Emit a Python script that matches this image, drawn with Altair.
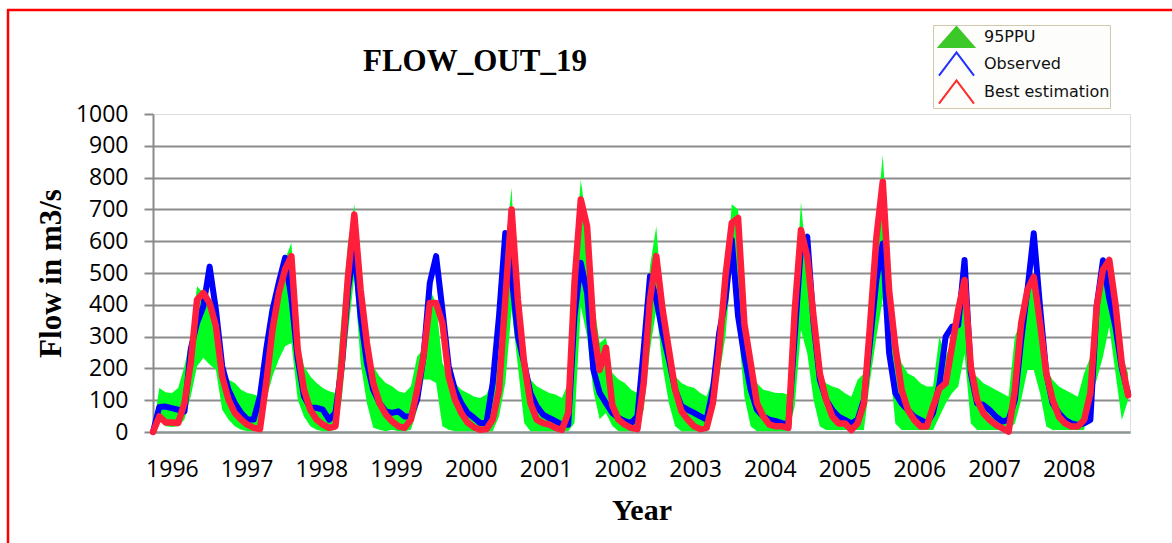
import altair as alt
import pandas as pd

months = list(range(156))

obs = [0, 79, 80, 75, 70, 65, 260, 343, 395, 520, 385, 207,
       133, 91, 60, 39, 39, 112, 260, 385, 470, 548, 420, 230,
       112, 76, 76, 70, 39, 60, 207, 448, 580, 364, 217, 133,
       91, 65, 60, 65, 49, 49, 102, 238, 469, 553, 385, 207,
       133, 91, 60, 45, 28, 28, 154, 364, 626, 490, 301, 217,
       122, 81, 55, 44, 34, 23, 23, 364, 532, 437, 196, 123,
       91, 60, 44, 34, 28, 49, 260, 490, 417, 312, 228, 133,
       81, 70, 60, 49, 39, 133, 312, 417, 605, 364, 238, 133,
       70, 49, 39, 34, 28, 23, 300, 583, 614, 342, 164, 101,
       69, 48, 38, 27, 38, 101, 289, 480, 593, 250, 122, 90,
       69, 48, 38, 27, 60, 150, 300, 331, 336, 541, 184, 90,
       85, 69, 48, 33, 38, 101, 289, 447, 625, 394, 184, 90,
       59, 38, 27, 22, 27, 38, 394, 540, 420, 330, 200, 120]

best = [0, 49, 30, 30, 28, 91, 217, 416, 437, 406, 333, 175,
        102, 60, 39, 23, 13, 9, 154, 322, 437, 511, 553, 260,
        133, 70, 39, 23, 13, 18, 217, 490, 684, 448, 280, 154,
        91, 55, 34, 18, 13, 39, 133, 238, 406, 406, 343, 175,
        102, 60, 30, 15, 7, 9, 39, 133, 416, 700, 416, 217,
        91, 39, 28, 23, 13, 7, 60, 470, 731, 647, 330, 195,
        265, 85, 39, 23, 13, 9, 154, 416, 553, 385, 259, 133,
        65, 39, 18, 9, 13, 91, 259, 490, 658, 673, 340, 217,
        91, 49, 23, 18, 18, 13, 380, 635, 551, 363, 184, 101,
        48, 27, 27, 6, 27, 90, 342, 614, 787, 447, 268, 132,
        69, 38, 17, 17, 80, 137, 153, 268, 384, 478, 205, 101,
        59, 38, 22, 12, 1, 132, 342, 447, 488, 342, 184, 101,
        48, 27, 17, 17, 38, 122, 394, 510, 541, 400, 215, 115]

ppu_hi = [5, 138, 125, 123, 138, 207, 301, 458, 437, 406, 322, 217,
          165, 154, 133, 123, 118, 112, 260, 406, 448, 543, 595, 301,
          207, 175, 154, 138, 128, 123, 364, 595, 716, 469, 260, 207,
          175, 154, 144, 128, 123, 144, 238, 260, 448, 406, 217, 175,
          154, 133, 123, 112, 107, 118, 165, 238, 574, 768, 364, 217,
          165, 144, 133, 123, 118, 107, 154, 521, 794, 647, 417, 280,
          296, 186, 165, 154, 133, 123, 259, 521, 647, 385, 238, 175,
          154, 144, 139, 123, 112, 175, 280, 469, 716, 700, 364, 175,
          154, 133, 128, 123, 123, 118, 394, 724, 499, 289, 184, 153,
          143, 137, 122, 111, 164, 184, 237, 656, 871, 551, 289, 216,
          184, 174, 153, 143, 143, 300, 237, 289, 384, 478, 184, 174,
          153, 143, 132, 122, 111, 300, 352, 478, 499, 373, 195, 164,
          143, 132, 122, 111, 184, 237, 415, 541, 541, 394, 247, 184]

ppu_lo = [0, 49, 18, 16, 18, 39, 112, 207, 233, 212, 196, 70,
          39, 18, 7, 2, 2, 7, 102, 175, 228, 270, 280, 102,
          49, 18, 7, 2, 2, 7, 102, 312, 490, 217, 91, 13,
          7, 2, 7, 2, 2, 7, 70, 165, 165, 154, 18, 7,
          2, 2, 2, 2, 2, 2, 2, 49, 154, 385, 207, 28,
          2, 2, 2, 2, 2, 2, 2, 28, 395, 301, 130, 40,
          60, 20, 2, 2, 2, 2, 70, 259, 385, 207, 91, 18,
          2, 2, 2, 2, 2, 70, 175, 301, 532, 333, 112, 18,
          2, 2, 2, 2, 2, 2, 80, 321, 247, 101, 17, 6,
          6, 6, 6, 6, 6, 6, 164, 300, 420, 237, 27, 6,
          6, 6, 6, 6, 6, 48, 90, 122, 143, 247, 27, 6,
          6, 6, 6, 6, 6, 27, 101, 195, 195, 122, 17, 6,
          6, 6, 6, 6, 6, 101, 164, 237, 331, 184, 38, 101]

years = list(range(1996, 2009))
series_names = ["95PPU", "Observed", "Best estimation"]
series_colors = ["#00ff21", "#0000ff", "#ff1e3c"]
legend_strokes = ["#3cc828", "#2030ff", "#ff2a2a"]
legend_fills = ["#3cc828", "transparent", "transparent"]

df = pd.DataFrame({"month": months, "obs": obs, "best": best,
                   "lo": ppu_lo, "hi": ppu_hi})
legend_df = pd.DataFrame({"series": series_names})

# label positions (in month units) of the year labels along the axis
year_ticks = [3.0 + 11.88 * k for k in range(len(years))]

TRI = "M-1.59,0.91L0,-0.91L1.59,0.91Z"
CHEV = "M-1.59,1.05L0,-1.05L1.59,1.05"

legend = alt.Legend(
    title=None, orient="none", legendX=780, legendY=-89,
    fillColor="#fdfdfb", strokeColor="#d3c8ab",
    padding=0, rowPadding=-8, symbolOffset=11.5, labelOffset=15.5,
    symbolSize=484, symbolStrokeWidth=2, symbolOpacity=1,
    labelFont="DejaVu Sans", labelFontSize=16, labelColor="#111111",
)

x_enc = alt.X(
    "month:Q",
    scale=alt.Scale(domain=[0, 155.3], nice=False, zero=False),
    axis=alt.Axis(
        values=year_ticks,
        labelExpr="'' + (1996 + round((datum.value - 3) / 11.88))",
        title="Year", titleFont="Liberation Serif", titleFontSize=30,
        titleFontWeight="bold", titleColor="black",
        titleY=87, titleBaseline="alphabetic",
        labelFont="Open Sans", labelFontSize=23, labelColor="black",
        labelBaseline="alphabetic", labelPadding=44,
        ticks=False, tickSize=0, grid=False,
        domainColor="#8a9696", domainWidth=2,
    ),
)

y_axis = alt.Axis(
    values=list(range(0, 1001, 100)), format="d", title="Flow in m3/s",
    titleFont="Liberation Serif", titleFontSize=31, titleFontWeight="bold",
    titleColor="black", titleX=-93, titleY=159, titleBaseline="alphabetic",
    labelFont="Open Sans", labelFontSize=23, labelColor="black",
    labelPadding=16, tickSize=9, tickColor="#8a8a8a", tickWidth=2,
    domainColor="#8a8a8a", domainWidth=2,
    gridColor="#8c8c8c", gridWidth=2,
    gridOpacity={"condition": {"test": "datum.value === 1000", "value": 0},
                 "value": 1},
)
y_scale = alt.Scale(domain=[0, 1000], nice=False, zero=True)

band = alt.Chart(df).mark_area(opacity=1, color=series_colors[0]).encode(
    x=x_enc,
    y=alt.Y("lo:Q", scale=y_scale, axis=y_axis, title="Flow in m3/s"),
    y2="hi:Q",
)

obs_line = alt.Chart(df).mark_line(
    strokeWidth=6, strokeJoin="round", strokeCap="round", color=series_colors[1]
).encode(
    x=x_enc,
    y=alt.Y("obs:Q", scale=y_scale, axis=y_axis, title="Flow in m3/s"),
)

best_line = alt.Chart(df).mark_line(
    strokeWidth=6.5, strokeJoin="round", strokeCap="round", color=series_colors[2]
).encode(
    x=x_enc,
    y=alt.Y("best:Q", scale=y_scale, axis=y_axis, title="Flow in m3/s"),
)

# legend carrier: three symbols parked off-canvas to the left; only their legend shows
legend_layer = alt.Chart(legend_df).mark_point(strokeWidth=2, opacity=1).encode(
    x=alt.value(-5000), y=alt.value(150),
    shape=alt.Shape("series:N", legend=legend,
                    scale=alt.Scale(domain=series_names, range=[TRI, CHEV, CHEV])),
    stroke=alt.Stroke("series:N", legend=legend,
                      scale=alt.Scale(domain=series_names, range=legend_strokes)),
    fill=alt.Fill("series:N", legend=legend,
                  scale=alt.Scale(domain=series_names, range=legend_fills)),
)

frame_df = pd.DataFrame({"k": [0]})
frame_v = alt.Chart(frame_df).mark_rule(color="#ff0000", strokeWidth=2.5).encode(
    x=alt.value(-145), y=alt.value(-104), y2=alt.value(440)
)
frame_h = alt.Chart(frame_df).mark_rule(color="#ff0000", strokeWidth=2.5).encode(
    x=alt.value(-146), x2=alt.value(1030), y=alt.value(-104)
)

chart = alt.layer(frame_v, frame_h, band, obs_line, best_line, legend_layer).properties(
    width=977, height=318,
    title=alt.TitleParams(
        "FLOW_OUT_19", font="Liberation Serif", fontSize=31,
        fontWeight="bold", color="black", anchor="start", frame="group",
        dx=210, dy=97, baseline="alphabetic",
    ),
    autosize=alt.AutoSizeParams(type="none"),
    padding={"left": 153, "top": 114, "right": 42, "bottom": 111},
).configure_view(
    stroke="#5b89c4", strokeWidth=2
).configure(background="white")

chart.save("out.html", embed_options={"renderer": "svg", "actions": False})
